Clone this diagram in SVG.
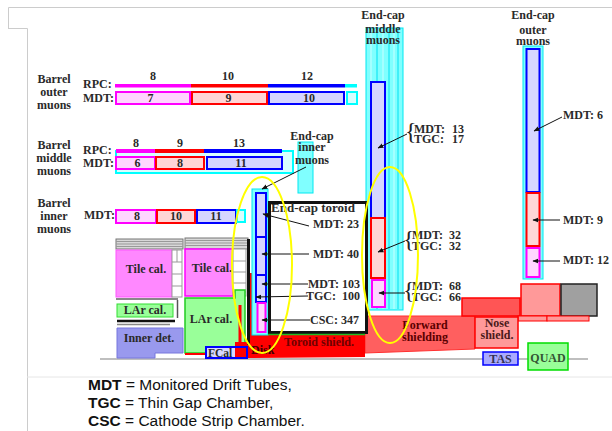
<svg xmlns="http://www.w3.org/2000/svg" width="612" height="431" viewBox="0 0 612 431">
<defs>
<marker id="ah" viewBox="0 0 10 10" refX="9" refY="5" markerWidth="6" markerHeight="6" orient="auto"><path d="M0,1 L10,5 L0,9 z" fill="#111"/></marker>
<style>
.t{font-family:"Liberation Serif","Times New Roman",serif;font-weight:bold;font-size:12px;fill:#2a2a2a}
.c{text-anchor:middle}
.e{text-anchor:end}
.leg{font-family:"Liberation Sans",Arial,sans-serif;font-size:15.5px;fill:#111}
.mg{fill:#FFD6FF;stroke:#FF00FF;stroke-width:2}
.rd{fill:#FFD6D6;stroke:#FF0000;stroke-width:2}
.bl{fill:#D6D6FF;stroke:#0000FF;stroke-width:2}
.cy{fill:#D8FFFF;stroke:#00FFFF;stroke-width:2}
.cyf{fill:#80FFFF;stroke:#00E8F0;stroke-width:1}
.ld{stroke:#111;stroke-width:1;fill:none;marker-end:url(#ah)}
.fr{stroke:#CCCCCC;stroke-width:1;fill:none}
.hdr{fill:#D8D8D8;stroke:#777;stroke-width:1}
.hl{stroke:#999;stroke-width:1}
.wb{fill:#fff;stroke:#999;stroke-width:1}
.sh{fill:#5a0000}
.yel{fill:none;stroke:#FFFF00;stroke-width:2}
</style>
</defs>

<!-- frame -->
<g id="frame">
<path class="fr" d="M8.5,28 V7.5 H612 M8,28.5 H27.5 V431"/>
<line x1="27" y1="377" x2="612" y2="377" stroke="#E6E6E6" stroke-width="1"/>
<line x1="100" y1="359" x2="588" y2="359" stroke="#AAAAAA" stroke-width="1.5"/>
</g>

<!-- barrel outer -->
<g id="barrel-outer">
<text class="t c" x="54" y="83">Barrel</text>
<text class="t c" x="54" y="96">outer</text>
<text class="t c" x="54" y="109">muons</text>
<text class="t" x="83" y="88">RPC:</text>
<text class="t" x="83" y="102">MDT:</text>
<text class="t c" x="153" y="80">8</text>
<text class="t c" x="228" y="80">10</text>
<text class="t c" x="307" y="80">12</text>
<rect x="115" y="84" width="76" height="3.5" fill="#FF00FF"/>
<rect x="191" y="84" width="77" height="3.5" fill="#FF0000"/>
<rect x="268" y="84" width="77" height="3.5" fill="#0000FF"/>
<rect x="345" y="84" width="12" height="3.5" fill="#00FFFF"/>
<rect class="mg" x="116" y="92" width="74" height="12"/>
<rect class="rd" x="192" y="92" width="75" height="12"/>
<rect class="bl" x="269" y="92" width="75" height="12"/>
<rect class="cy" x="347" y="92" width="10" height="12"/>
<text class="t c" x="150.5" y="102">7</text>
<text class="t c" x="228.5" y="102">9</text>
<text class="t c" x="309" y="102">10</text>
</g>

<!-- barrel middle -->
<g id="barrel-middle">
<text class="t c" x="54" y="149">Barrel</text>
<text class="t c" x="54" y="162">middle</text>
<text class="t c" x="54" y="175">muons</text>
<text class="t" x="83" y="154">RPC:</text>
<text class="t" x="83" y="167">MDT:</text>
<text class="t c" x="136" y="147">8</text>
<text class="t c" x="180" y="147">9</text>
<text class="t c" x="239" y="147">13</text>
<rect class="cy" x="116" y="151" width="177" height="22"/>
<rect x="116" y="149" width="39" height="4" fill="#FF00FF"/>
<rect x="155" y="149" width="49" height="4" fill="#FF0000"/>
<rect x="204" y="149" width="78" height="4" fill="#0000FF"/>
<rect class="mg" x="116" y="157" width="39" height="12"/>
<rect class="rd" x="156" y="157" width="48" height="12"/>
<rect class="bl" x="207" y="157" width="75" height="12"/>
<text class="t c" x="137.5" y="167">6</text>
<text class="t c" x="180" y="167">8</text>
<text class="t c" x="241" y="167">11</text>
</g>

<!-- barrel inner -->
<g id="barrel-inner">
<text class="t c" x="54" y="207">Barrel</text>
<text class="t c" x="54" y="220">inner</text>
<text class="t c" x="54" y="233">muons</text>
<text class="t" x="84" y="219">MDT:</text>
<rect class="mg" x="116" y="210" width="40" height="13"/>
<rect class="rd" x="157" y="210" width="38" height="13"/>
<rect class="bl" x="197" y="210" width="39" height="13"/>
<rect class="cy" x="237" y="210" width="8" height="12"/>
<text class="t c" x="137" y="220">8</text>
<text class="t c" x="176" y="220">10</text>
<text class="t c" x="216" y="220">11</text>
</g>

<!-- endcap middle background -->
<g id="endcap-middle-bg">
<rect class="cyf" x="366" y="28" width="37" height="282"/>
<g stroke-width="1">
<line x1="371" y1="29" x2="371" y2="309" stroke="#C8FFFF"/>
<line x1="377" y1="29" x2="377" y2="309" stroke="#00E0F0"/>
<line x1="383" y1="29" x2="383" y2="309" stroke="#C8FFFF"/>
<line x1="389" y1="29" x2="389" y2="309" stroke="#00E0F0"/>
<line x1="394" y1="29" x2="394" y2="309" stroke="#C8FFFF"/>
<line x1="398" y1="29" x2="398" y2="309" stroke="#00E0F0"/>
</g>
</g>

<!-- endcap outer background -->
<g id="endcap-outer-bg">
<rect class="cyf" x="523" y="46" width="20" height="233"/>
</g>

<!-- endcap inner label box -->
<g id="endcap-inner-label">
<rect class="cyf" x="298" y="142" width="15" height="51"/>
<text class="t c" x="312" y="140">End-cap</text>
<text class="t c" x="312" y="151">inner</text>
<text class="t c" x="312" y="164">muons</text>
</g>

<!-- calorimeters -->
<g id="tile-cal-left">
<rect class="hdr" x="116" y="239" width="67" height="10"/>
<line class="hl" x1="116" y1="241.5" x2="183" y2="241.5"/>
<line class="hl" x1="116" y1="244" x2="183" y2="244"/>
<line class="hl" x1="116" y1="246.5" x2="183" y2="246.5"/>
<rect x="116" y="250" width="56" height="47" fill="#FF88FF" stroke="#FF55FF" stroke-width="1"/>
<rect class="wb" x="172" y="250" width="10" height="47"/>
<line class="hl" x1="172" y1="262" x2="182" y2="262"/>
<line class="hl" x1="172" y1="274" x2="182" y2="274"/>
<line class="hl" x1="172" y1="286" x2="182" y2="286"/>
<line class="hl" x1="177" y1="250" x2="177" y2="262"/>
<text class="t c" x="146" y="273">Tile cal.</text>
</g>
<g id="tile-cal-right">
<rect class="hdr" x="185" y="238" width="63" height="11"/>
<line class="hl" x1="185" y1="240.5" x2="248" y2="240.5"/>
<line class="hl" x1="185" y1="243" x2="248" y2="243"/>
<line class="hl" x1="185" y1="245.5" x2="248" y2="245.5"/>
<rect x="185" y="249" width="48" height="47" fill="#FF88FF" stroke="#FF00FF" stroke-width="1.5"/>
<rect class="wb" x="233" y="249" width="13" height="47"/>
<line class="hl" x1="233" y1="261" x2="246" y2="261"/>
<line class="hl" x1="233" y1="272" x2="246" y2="272"/>
<line class="hl" x1="233" y1="283" x2="246" y2="283"/>
<line class="hl" x1="233" y1="292" x2="246" y2="292"/>
<text class="t c" x="212" y="272">Tile cal.</text>
</g>
<g id="lar-cal-left">
<line x1="116" y1="299" x2="178" y2="299" stroke="#888" stroke-width="2"/>
<line x1="177.5" y1="300" x2="177.5" y2="318" stroke="#555" stroke-width="1.5"/>
<rect x="117" y="304" width="56" height="13" fill="#99FF99" stroke="#33DD33" stroke-width="1"/>
<line x1="117" y1="321" x2="175" y2="321" stroke="#111" stroke-width="2.5"/>
<line x1="117" y1="324.5" x2="170" y2="324.5" stroke="#888" stroke-width="1.5"/>
<text class="t c" x="145" y="314">LAr cal.</text>
</g>
<g id="inner-det">
<path d="M117,328 H183 V353 H155 V358 H117 Z" fill="#9999EE" stroke="#7777DD" stroke-width="1"/>
<text class="t c" x="149" y="342">Inner det.</text>
</g>
<g id="lar-cal-right">
<path d="M185,298 H235 V290 H245 V350 H207 V353 H185 Z" fill="#99FF99" stroke="#22CC22" stroke-width="1.5"/>
<path d="M240,305 V348 H236" fill="none" stroke="#FF0000" stroke-width="3"/>
<line x1="185" y1="354" x2="207" y2="354" stroke="#FF0000" stroke-width="2"/>
<text class="t c" x="211" y="323">LAr cal.</text>
</g>

<!-- shields -->
<g id="forward-shielding">
<path d="M365,316 H475 V349 L365,353 Z" fill="#FF5F5F" stroke="#FF3030" stroke-width="1"/>
<text class="t c sh" x="425" y="329">Forward</text>
<text class="t c sh" x="425" y="341">shielding</text>
</g>
<g id="shield-blocks">
<rect x="462" y="298" width="58" height="18" fill="#FF5555" stroke="#FF0000" stroke-width="1.5"/>
<rect x="521" y="284" width="39" height="32" fill="#FF9999" stroke="#FF0000" stroke-width="1.5"/>
<rect x="561" y="284" width="36" height="32" fill="#A0A0A0" stroke="#222" stroke-width="1.5"/>
<rect x="518" y="316" width="29" height="5" fill="#FF9999" stroke="#FF0000" stroke-width="1"/>
<rect x="547" y="316" width="42" height="5" fill="#FF9999" stroke="#FF0000" stroke-width="1"/>
</g>
<g id="nose-shield">
<rect x="475" y="317" width="43" height="31" fill="#FF9999" stroke="#FF0000" stroke-width="1.5"/>
<text class="t c" x="497" y="327" fill="#4a1a1a" style="fill:#4a1a1a">Nose</text>
<text class="t c" x="497" y="339" style="fill:#4a1a1a">shield.</text>
</g>
<g id="tas">
<rect x="483" y="352" width="35" height="13" fill="#AAAAFF" stroke="#0000FF" stroke-width="1.5"/>
<text class="t c" x="500.5" y="363" style="fill:#333355">TAS</text>
</g>
<g id="quad">
<rect x="528" y="343" width="40" height="27" fill="#99FF99" stroke="#00DD00" stroke-width="1.5"/>
<text class="t c" x="548" y="362" style="fill:#335533">QUAD</text>
</g>
<g id="toroid-shield">
<path d="M235,342 H247 V333 H365 V357 L247,358 H235 Z" fill="#FF0000"/>
<rect x="250" y="273" width="7" height="72" fill="#FF0000"/>
<text class="t c" x="319" y="346" style="fill:#700000">Toroid shield.</text>
<text class="t" x="251" y="354" style="fill:#400000">Disk</text>
</g>
<g id="fcal">
<rect x="206" y="347" width="41" height="11" fill="#D8D8FF" stroke="#0000FF" stroke-width="2"/>
<rect x="235" y="348" width="11" height="9" fill="#FF0000"/>
<text class="t" x="208" y="357" style="font-size:11.5px">FCal</text>
</g>

<!-- endcap inner chambers -->
<g id="endcap-inner">
<line x1="248.5" y1="239" x2="248.5" y2="345" stroke="#111" stroke-width="3"/>
<rect class="cyf" x="252" y="189" width="16" height="146"/>
<rect class="bl" x="256" y="193" width="10" height="44"/>
<rect class="bl" x="256" y="237" width="10" height="38"/>
<rect class="bl" x="256" y="275" width="10" height="27"/>
<rect class="mg" x="257.5" y="303" width="8" height="29"/>
</g>

<!-- end-cap toroid -->
<g id="endcap-toroid">
<rect x="269.5" y="202.5" width="97" height="130" fill="#fff" stroke="#111" stroke-width="3"/>
<line x1="268" y1="334.5" x2="365" y2="334.5" stroke="#22BB22" stroke-width="1.5"/>
<text class="t" x="271" y="212" style="font-size:13px">End-cap toroid</text>
<text class="t e" x="359" y="228">MDT: 23</text>
<text class="t e" x="359" y="258">MDT: 40</text>
<text class="t e" x="360" y="288">MDT: 103</text>
<text class="t e" x="360" y="300" xml:space="preserve">TGC:  100</text>
<text class="t e" x="359" y="324">CSC: 347</text>
</g>

<!-- endcap middle chambers -->
<g id="endcap-middle">
<text class="t c" x="383" y="19">End-cap</text>
<text class="t c" x="383" y="33">middle</text>
<text class="t c" x="383" y="44">muons</text>
<rect class="bl" x="371" y="82" width="14" height="136"/>
<rect class="rd" x="371" y="218" width="14" height="60"/>
<rect class="mg" x="372" y="280" width="13" height="27"/>
<text x="405" y="139" style="font-family:'Liberation Serif',serif;font-size:24px;fill:#222">{</text>
<text class="t" x="414" y="132.5">MDT:</text>
<text class="t e" x="464" y="132.5">13</text>
<text class="t" x="414" y="143">TGC:</text>
<text class="t e" x="464" y="143">17</text>
<text x="403" y="247" style="font-family:'Liberation Serif',serif;font-size:24px;fill:#222">{</text>
<text class="t" x="412" y="239">MDT:</text>
<text class="t e" x="461" y="239">32</text>
<text class="t" x="412" y="250">TGC:</text>
<text class="t e" x="461" y="250">32</text>
<text x="403" y="298" style="font-family:'Liberation Serif',serif;font-size:24px;fill:#222">{</text>
<text class="t" x="412" y="290">MDT:</text>
<text class="t e" x="461" y="290">68</text>
<text class="t" x="412" y="301">TGC:</text>
<text class="t e" x="461" y="301">66</text>
</g>

<!-- endcap outer chambers -->
<g id="endcap-outer">
<text class="t c" x="533" y="19">End-cap</text>
<text class="t c" x="533" y="34">outer</text>
<text class="t c" x="533" y="45">muons</text>
<rect class="bl" x="526.5" y="49" width="13" height="143"/>
<rect class="rd" x="526.5" y="193" width="13" height="53"/>
<rect class="mg" x="526.5" y="248" width="13" height="29"/>
<text class="t" x="563" y="119">MDT: 6</text>
<text class="t" x="563" y="224">MDT: 9</text>
<text class="t" x="563" y="264">MDT: 12</text>
</g>

<!-- connectors -->
<g id="connectors">
<line class="ld" x1="306" y1="167" x2="262" y2="189"/>
<line class="ld" x1="309" y1="226" x2="263" y2="214"/>
<line class="ld" x1="309" y1="254" x2="262" y2="254"/>
<line class="ld" x1="308" y1="284" x2="262" y2="284"/>
<line class="ld" x1="308" y1="296" x2="256" y2="297"/>
<line class="ld" x1="310" y1="320" x2="262" y2="320"/>
<line class="ld" x1="407" y1="134" x2="378" y2="148"/>
<line class="ld" x1="405" y1="241" x2="378" y2="252"/>
<line class="ld" x1="405" y1="293" x2="379" y2="293"/>
<line class="ld" x1="562" y1="117" x2="534" y2="131"/>
<line class="ld" x1="560" y1="220" x2="533" y2="220"/>
<line class="ld" x1="560" y1="261" x2="533" y2="261"/>
</g>

<!-- highlight ellipses -->
<g id="highlights">
<ellipse class="yel" cx="262" cy="265" rx="30" ry="88"/>
<ellipse class="yel" cx="390" cy="255" rx="28" ry="88"/>
</g>

<!-- legend -->
<g id="legend">
<text class="leg" x="88" y="390"><tspan font-weight="bold">MDT</tspan> = Monitored Drift Tubes,</text>
<text class="leg" x="88" y="408"><tspan font-weight="bold">TGC</tspan> = Thin Gap Chamber,</text>
<text class="leg" x="88" y="426"><tspan font-weight="bold">CSC</tspan> = Cathode Strip Chamber.</text>
</g>
</svg>
